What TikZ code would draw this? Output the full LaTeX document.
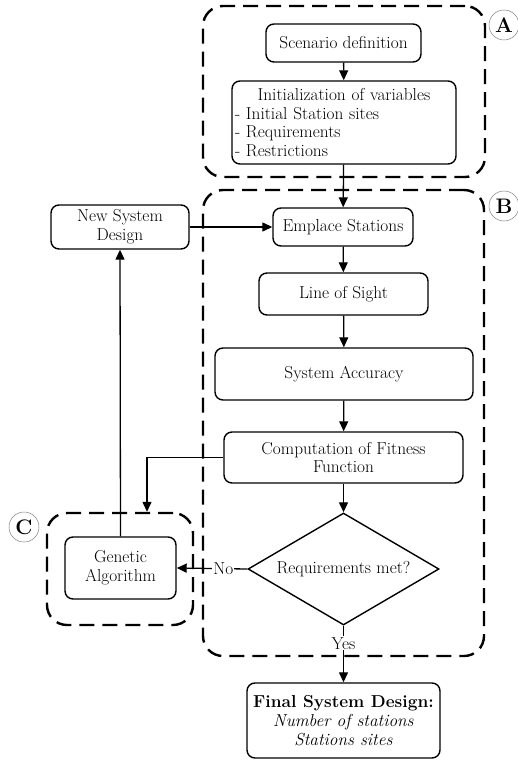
\documentclass[tikz,border=0pt]{standalone}
\usetikzlibrary{arrows.meta,shapes.geometric}
\begin{document}
\begin{tikzpicture}[x=1pt,y=-1pt,
  every node/.style={font=\fontsize{17.3}{18.8}\selectfont},
  stepbox/.style={draw, rounded corners=8pt, line width=1.4pt, align=center, inner sep=3pt},
  decision/.style={draw, diamond, aspect=1.7, line width=1.4pt, inner sep=0pt, align=center},
  group/.style={draw, dash pattern=on 15pt off 8pt, line width=2.4pt, rounded corners=20pt, inner sep=0pt},
  tag/.style={circle, draw=gray, line width=0.5pt, minimum size=30pt, inner sep=0pt,
    font=\fontsize{21}{24}\selectfont\bfseries},
  flow/.style={-{Triangle[length=10pt,width=9pt]}, line width=1.3pt},
  lbl/.style={fill=white, inner sep=1pt}
]
\useasboundingbox (0,0) rectangle (518,760);

% dashed groups
\node[group, minimum width=282pt, minimum height=171pt] (grpA) at (344,91.5) {};
\node[group, minimum width=281pt, minimum height=466pt] (grpB) at (343.5,423) {};
\node[group, minimum width=146pt, minimum height=112pt] (grpC) at (120,569) {};

% group tags
\node[tag] (tagA) at (504,25) {A};
\node[tag] (tagB) at (504,206) {B};
\node[tag] (tagC) at (24,527) {C};

% process steps
\node[stepbox, minimum width=155pt, minimum height=38pt] (scen) at (343.5,43) {Scenario definition};
\node[stepbox, minimum width=224pt, minimum height=83pt, text width=218pt, align=left] (init) at (344,122.5)
  {\hbox to \hsize{\hfil Initialization of variables\hfil}\\- Initial Station sites\\- Requirements\\- Restrictions};
\node[stepbox, minimum width=140pt, minimum height=38pt] (emp) at (343,227) {Emplace Stations};
\node[stepbox, minimum width=169pt, minimum height=42pt] (los) at (343.5,294) {Line of Sight};
\node[stepbox, minimum width=258pt, minimum height=52pt] (acc) at (344,374) {System Accuracy};
\node[stepbox, minimum width=239pt, minimum height=51pt] (fit) at (343.5,457.5) {Computation of Fitness\\Function};
\node[decision, minimum width=191pt, minimum height=112pt] (req) at (343.5,569) {Requirements met?};
\node[stepbox, minimum width=111pt, minimum height=62pt] (ga) at (120.5,568) {Genetic\\Algorithm};
\node[stepbox, minimum width=138pt, minimum height=44pt] (nsd) at (120,227) {New System\\Design};
\node[stepbox, minimum width=193pt, minimum height=75pt] (fin) at (343.5,720.5)
  {\textbf{Final System Design:}\\\textit{Number of stations}\\\textit{Stations sites}};

\coordinate (gaIn) at ([xshift=27pt]grpC.north);

% connectors
\draw[flow] (scen) -- (init);
\draw[flow] (init) -- (emp);
\draw[flow] (emp) -- (los);
\draw[flow] (los) -- (acc);
\draw[flow] (acc) -- (fit);
\draw[flow] (fit) -- (req);
\draw[flow] (fit.west) -| (gaIn);
\draw[flow] (req.west) -- node[lbl, pos=0.34] (no) {No} (ga.east);
\draw[flow] (ga.north) -- (nsd.south);
\draw[flow] (nsd.east) -- (emp.west);
\draw[flow] (req.south) -- node[lbl, pos=0.31] (yes) {Yes} (fin.north);
\end{tikzpicture}
\end{document}
